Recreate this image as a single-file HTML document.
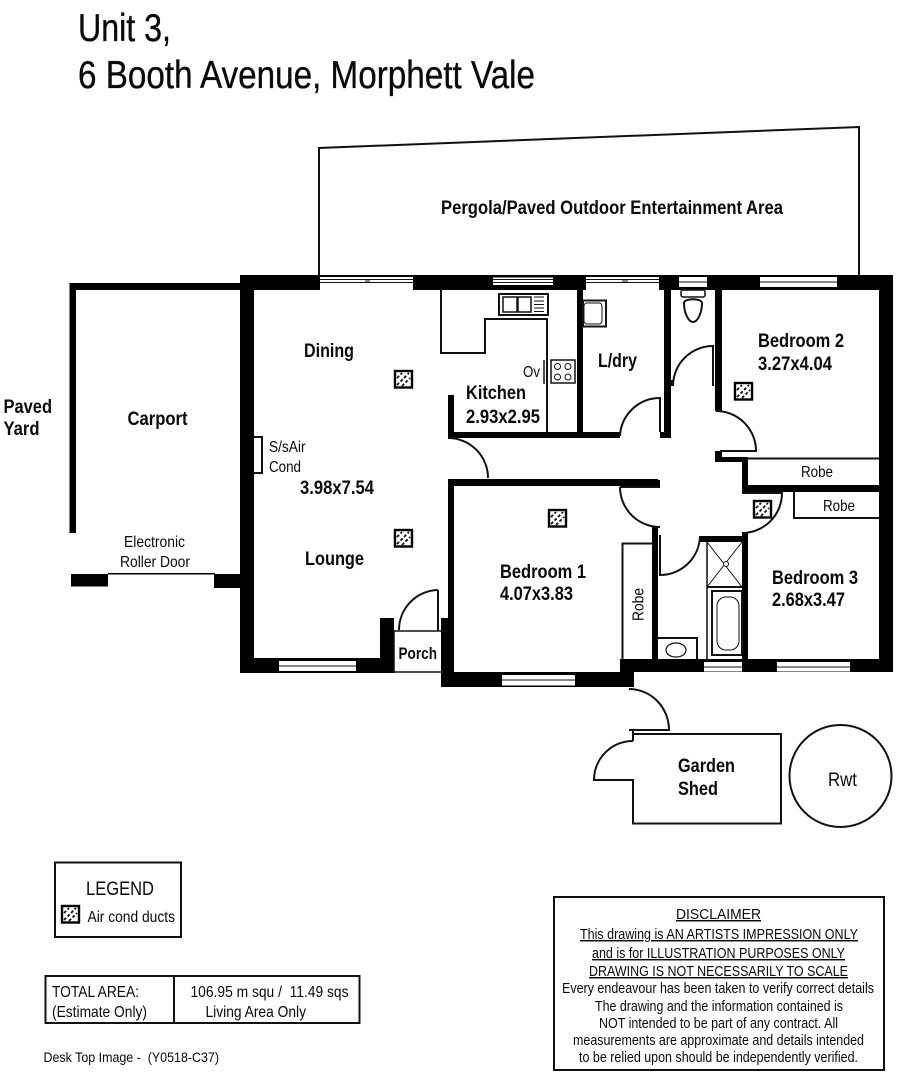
<!DOCTYPE html>
<html><head><meta charset="utf-8"><style>
html,body{margin:0;padding:0;background:#fff}
svg{display:block}
text{font-family:"Liberation Sans",sans-serif;fill:#0a0a0a}
.t{stroke:#0a0a0a;stroke-width:.35px}
.b{font-weight:bold;font-size:19px}
.r{font-size:16px}
.u{text-decoration:underline}
</style></head><body>
<svg xmlns="http://www.w3.org/2000/svg" width="900" height="1079" viewBox="0 0 900 1079">
<defs>
<g id="duct">
<rect x="1" y="1" width="17" height="16.5" fill="#fff" stroke="#000" stroke-width="2.4"/>
<path d="M3 8L8 3M3 15L15 3M8 16L16 8" stroke="#111" stroke-width="1.8" stroke-dasharray="3 2" fill="none"/>
</g>
</defs>
<rect width="900" height="1079" fill="#fff"/>

<!-- title -->
<text class="t" x="78" y="41" font-size="39" textLength="93" lengthAdjust="spacingAndGlyphs">Unit 3,</text>
<text class="t" x="78" y="88" font-size="39" textLength="457" lengthAdjust="spacingAndGlyphs">6 Booth Avenue, Morphett Vale</text>

<!-- pergola -->
<path d="M319 275V148L859 127V275" fill="none" stroke="#111" stroke-width="2"/>
<text class="b" x="441" y="214" textLength="342" lengthAdjust="spacingAndGlyphs">Pergola/Paved Outdoor Entertainment Area</text>

<!-- carport + walls -->
<g fill="#000">
<rect x="69.5" y="283" width="171" height="7"/>
<rect x="69.5" y="283" width="6.5" height="250"/>
<rect x="71" y="574" width="37" height="12.5"/>
<rect x="214" y="574" width="27" height="14"/>
<rect x="108" y="573" width="107" height="1.5"/>

<rect x="240" y="275" width="653" height="15"/>
<rect x="240" y="275" width="14" height="398"/>
<rect x="879" y="275" width="14" height="397"/>
<rect x="240" y="658" width="154" height="15"/>
<rect x="380" y="618" width="14" height="55"/>
<rect x="620" y="659" width="273" height="13"/>
<rect x="441" y="672" width="193" height="15"/>
<rect x="441" y="618" width="13" height="69"/>

<rect x="448" y="395" width="6" height="43"/>
<rect x="448" y="432" width="172" height="6"/>
<rect x="577" y="290" width="6" height="142"/>
<rect x="664" y="290" width="7" height="148"/>
<rect x="660" y="432" width="11" height="6"/>
<rect x="715" y="290" width="7" height="121"/>
<rect x="670" y="380" width="4" height="6"/>
<rect x="715" y="451" width="7" height="11"/>
<rect x="715" y="457" width="33" height="5"/>
<rect x="742" y="457" width="6" height="36"/>
<rect x="742" y="485" width="137" height="7"/>
<rect x="742" y="533" width="6" height="127"/>
<rect x="700" y="536" width="48" height="6"/>
<rect x="652" y="527" width="6" height="133"/>
<rect x="448" y="479" width="210" height="7"/>
<rect x="448" y="479" width="6" height="140"/>
<rect x="653" y="480" width="7" height="8"/>
</g>

<!-- openings in walls -->
<g fill="#fff">
<rect x="320" y="277" width="93" height="13"/>
<rect x="586" y="277" width="73" height="13"/>
<rect x="493" y="277.5" width="60" height="7.5"/>
<rect x="679" y="277" width="28" height="10"/>
<rect x="760" y="277" width="77" height="10"/>
<rect x="279" y="661" width="77" height="10"/>
<rect x="704" y="662" width="38" height="9.5"/>
<rect x="777" y="662" width="73" height="9.5"/>
<rect x="502" y="675" width="73" height="10.5"/>
</g>
<g stroke="#111" stroke-width="1" fill="none">
<path d="M320 279.5H413M320 282.5H413M365 281H370"/>
<path d="M586 279.5H659M586 282.5H659M622 281H628"/>
<path d="M493 279.5H553M493 282.5H553"/>
<path d="M679 282H707M760 282H837M279 666H356M704 667H742M777 667H850M502 680H575"/>
</g>

<!-- thin lines -->
<g fill="none" stroke="#111" stroke-width="2">
<path d="M441 290V353H485V319H547V432"/>
<path d="M254 437H262V473H254"/>
<path d="M748 458.5H879"/>
<path d="M794 492V518H879"/>
<path d="M622.5 659V543.5H652"/>
<path d="M394 631H441M394 672H441M394 631V673" stroke-width="1.5"/>
<path d="M438 590V631"/>
<path d="M544 360V384" stroke-width="1.5"/>
</g>

<!-- doors -->
<g fill="none" stroke="#111" stroke-width="2">
<path d="M448 438A40 40 0 0 1 488 478"/>
<path d="M620 436A40 40 0 0 1 660 398V432"/>
<path d="M673 386A40 40 0 0 1 713 346V386"/>
<path d="M716 411A40 40 0 0 1 756 451H720"/>
<path d="M620 487H660M620 487A40 40 0 0 0 660 527"/>
<path d="M660 535V575A40 40 0 0 0 700 536"/>
<path d="M742 493H782A40 40 0 0 1 742 533"/>
<path d="M438 590A40 40 0 0 0 399 630"/>
</g>

<!-- fixtures -->
<g fill="none" stroke="#111">
<rect x="499" y="294" width="49" height="21" stroke-width="2"/>
<rect x="503" y="297" width="14" height="15" stroke-width="1.5"/>
<rect x="518" y="297" width="13" height="15" stroke-width="1.5"/>
<path d="M534 297H544M534 301H544M534 304.5H544M534 308H544M534 311.5H544" stroke-width="1"/>
<rect x="551" y="360" width="24" height="23" stroke-width="1.5"/>
<circle cx="557.500" cy="366.500" r="3" stroke-width="1"/><circle cx="568" cy="366.500" r="3" stroke-width="1"/>
<circle cx="557.500" cy="377" r="3" stroke-width="1"/><circle cx="568" cy="377" r="3" stroke-width="1"/>
<rect x="583" y="300.500" width="23" height="26" stroke-width="2"/>
<rect x="584" y="303" width="18" height="21" rx="3" stroke-width="1"/>
<rect x="681" y="290" width="24" height="7" rx="2" stroke-width="1.5"/>
<path d="M684 303C684 298 702 298 702 303C702 312 698 322 693 322C688 322 684 312 684 303Z" stroke-width="2"/>
<path d="M658 638H697V659" stroke-width="2"/>
<ellipse cx="676" cy="650" rx="10" ry="7" stroke-width="1.2"/>
<path d="M707 542V659" stroke-width="1.5"/>
<path d="M707 587H742" stroke-width="2"/>
<path d="M707 542L742 587M742 542L707 587" stroke-width="1"/>
<circle cx="726" cy="564" r="2.500" fill="#fff" stroke-width="1"/>
<rect x="712" y="591" width="30" height="64" stroke-width="2"/>
<rect x="717" y="597" width="22" height="53" rx="9" stroke-width="1"/>
</g>

<!-- ducts -->
<use href="#duct" x="394" y="370"/>
<use href="#duct" x="394" y="529"/>
<use href="#duct" x="548" y="509"/>
<use href="#duct" x="734" y="382"/>
<use href="#duct" x="753" y="500"/>
<use href="#duct" x="61" y="905"/>

<!-- shed + tank -->
<g fill="none" stroke="#111" stroke-width="2">
<path d="M633 730V741M633 780V823.500H781V734H633"/>
<path d="M629 730H669A40 41 0 0 0 629 689"/>
<path d="M633 741A39 39 0 0 0 594 780H634"/>
<circle cx="840.500" cy="776" r="51"/>
</g>

<!-- room labels -->
<text class="b" x="304" y="357" textLength="50" lengthAdjust="spacingAndGlyphs">Dining</text>
<text class="b" x="466" y="399" textLength="60" lengthAdjust="spacingAndGlyphs">Kitchen</text>
<text class="b" x="466" y="423" textLength="74" lengthAdjust="spacingAndGlyphs">2.93x2.95</text>
<text class="b" x="300" y="494" textLength="74" lengthAdjust="spacingAndGlyphs">3.98x7.54</text>
<text class="r" x="269" y="452" textLength="36.500" lengthAdjust="spacingAndGlyphs">S/sAir</text>
<text class="r" x="269" y="472" textLength="32" lengthAdjust="spacingAndGlyphs">Cond</text>
<text class="r" x="523" y="377" textLength="17" lengthAdjust="spacingAndGlyphs">Ov</text>
<text class="b" x="758" y="347" textLength="86" lengthAdjust="spacingAndGlyphs">Bedroom 2</text>
<text class="b" x="758" y="370" textLength="74" lengthAdjust="spacingAndGlyphs">3.27x4.04</text>
<text class="b" x="598" y="367" textLength="39" lengthAdjust="spacingAndGlyphs">L/dry</text>
<text class="r" x="801" y="477" textLength="32" lengthAdjust="spacingAndGlyphs">Robe</text>
<text class="r" x="823" y="511" textLength="32" lengthAdjust="spacingAndGlyphs">Robe</text>
<text class="b" x="772" y="584" textLength="86" lengthAdjust="spacingAndGlyphs">Bedroom 3</text>
<text class="b" x="772" y="606" textLength="73" lengthAdjust="spacingAndGlyphs">2.68x3.47</text>
<text class="r" transform="translate(643.500 621) rotate(-90)" textLength="33" lengthAdjust="spacingAndGlyphs">Robe</text>
<text class="b" x="500" y="578" textLength="86" lengthAdjust="spacingAndGlyphs">Bedroom 1</text>
<text class="b" x="500" y="600" textLength="73" lengthAdjust="spacingAndGlyphs">4.07x3.83</text>
<text class="b" x="305" y="565" textLength="59" lengthAdjust="spacingAndGlyphs">Lounge</text>
<text class="b" x="398.500" y="659" style="font-size:17px" textLength="38.500" lengthAdjust="spacingAndGlyphs">Porch</text>
<text class="b" x="3.500" y="413" textLength="48.500" lengthAdjust="spacingAndGlyphs">Paved</text>
<text class="b" x="3.500" y="435" textLength="36" lengthAdjust="spacingAndGlyphs">Yard</text>
<text class="b" x="127.500" y="425" textLength="60" lengthAdjust="spacingAndGlyphs">Carport</text>
<text class="r" x="124" y="547" textLength="61" lengthAdjust="spacingAndGlyphs">Electronic</text>
<text class="r" x="120" y="567" textLength="70" lengthAdjust="spacingAndGlyphs">Roller Door</text>
<text class="b" x="678" y="772" textLength="57" lengthAdjust="spacingAndGlyphs">Garden</text>
<text class="b" x="678" y="795" textLength="40" lengthAdjust="spacingAndGlyphs">Shed</text>
<text x="828" y="786" font-size="19" textLength="29" lengthAdjust="spacingAndGlyphs">Rwt</text>

<!-- legend -->
<rect x="55" y="862.500" width="126" height="74.500" fill="none" stroke="#111" stroke-width="2"/>
<text x="86" y="895" font-size="19" textLength="68" lengthAdjust="spacingAndGlyphs">LEGEND</text>
<text class="r" x="87.500" y="922" textLength="87.500" lengthAdjust="spacingAndGlyphs">Air cond ducts</text>

<!-- area -->
<rect x="45.500" y="976" width="314" height="47" fill="none" stroke="#111" stroke-width="2"/>
<path d="M174 976V1023" stroke="#111" stroke-width="2"/>
<text class="r" x="52" y="997" textLength="87" lengthAdjust="spacingAndGlyphs">TOTAL AREA:</text>
<text class="r" x="52" y="1017" textLength="95" lengthAdjust="spacingAndGlyphs">(Estimate Only)</text>
<text class="r" x="190.500" y="997" textLength="158" lengthAdjust="spacingAndGlyphs" xml:space="preserve">106.95 m squ /  11.49 sqs</text>
<text class="r" x="205.500" y="1017" textLength="100.500" lengthAdjust="spacingAndGlyphs">Living Area Only</text>
<text x="43.500" y="1062" font-size="14" textLength="175.500" lengthAdjust="spacingAndGlyphs" xml:space="preserve">Desk Top Image -  (Y0518-C37)</text>

<!-- disclaimer -->
<rect x="554" y="897" width="330" height="173" fill="none" stroke="#111" stroke-width="2"/>
<g font-size="14.5">
<text class="u" x="676" y="919" textLength="85" lengthAdjust="spacingAndGlyphs">DISCLAIMER</text>
<text class="u" x="580" y="939" textLength="278" lengthAdjust="spacingAndGlyphs">This drawing is AN ARTISTS IMPRESSION ONLY</text>
<text class="u" x="592" y="958" textLength="253" lengthAdjust="spacingAndGlyphs">and is for ILLUSTRATION PURPOSES ONLY</text>
<text class="u" x="589" y="976" textLength="259" lengthAdjust="spacingAndGlyphs">DRAWING IS NOT NECESSARILY TO SCALE</text>
<text x="562" y="993" textLength="312" lengthAdjust="spacingAndGlyphs">Every endeavour has been taken to verify correct details</text>
<text x="595" y="1011" textLength="248" lengthAdjust="spacingAndGlyphs">The drawing and the information contained is</text>
<text x="599" y="1028" textLength="239" lengthAdjust="spacingAndGlyphs">NOT intended to be part of any contract. All</text>
<text x="573" y="1045" textLength="291" lengthAdjust="spacingAndGlyphs">measurements are approximate and details intended</text>
<text x="579" y="1062" textLength="279" lengthAdjust="spacingAndGlyphs">to be relied upon should be independently verified.</text>
</g>
</svg>
</body></html>
